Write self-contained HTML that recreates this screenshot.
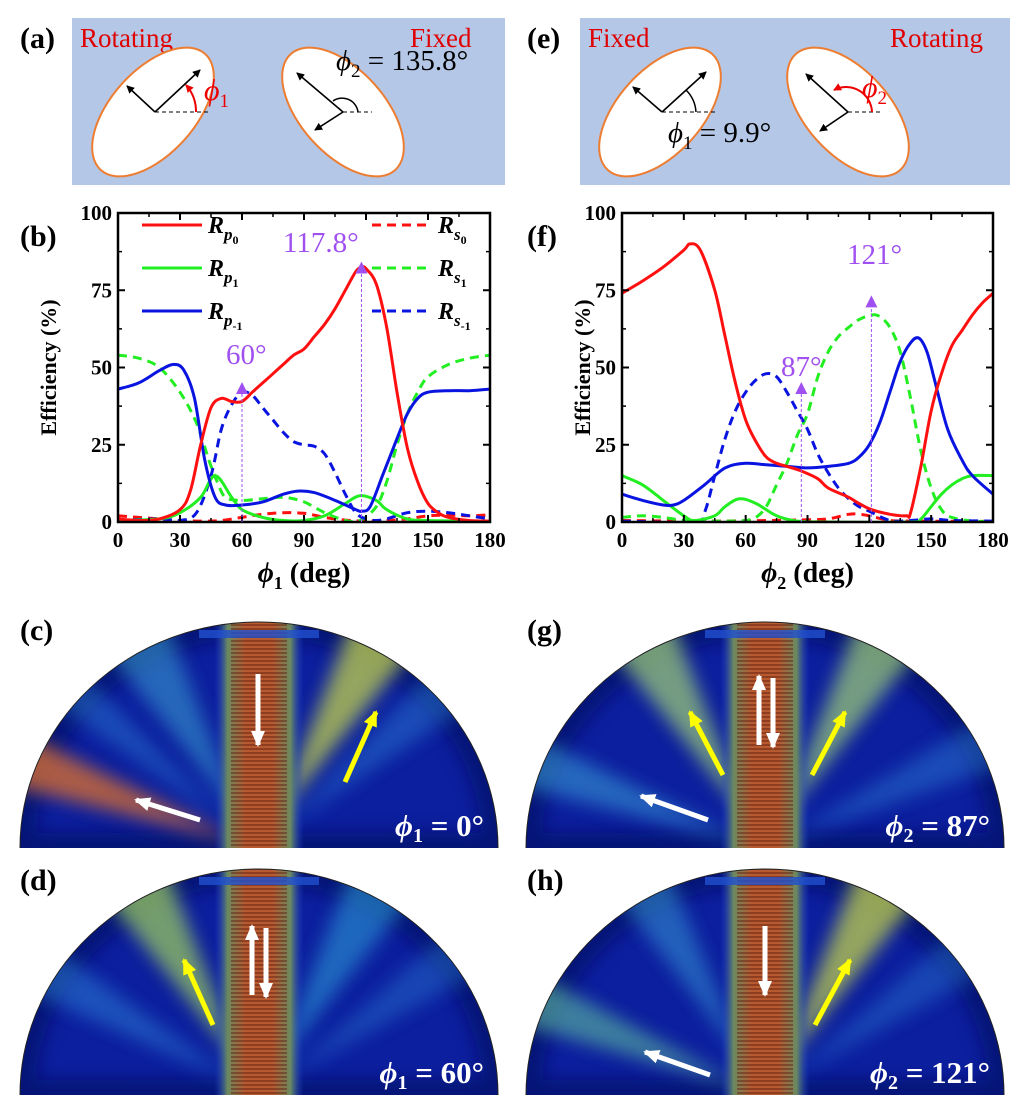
<!DOCTYPE html>
<html><head><meta charset="utf-8">
<style>
html,body{margin:0;padding:0;background:#fff;}
svg{display:block;font-family:"Liberation Serif",serif;}
</style></head>
<body>
<svg id="fig" width="1026" height="1106" viewBox="0 0 1026 1106" xmlns="http://www.w3.org/2000/svg">
<defs>
  <filter id="blur" x="-30%" y="-30%" width="160%" height="160%"><feGaussianBlur stdDeviation="9"/></filter>
  <linearGradient id="core" x1="0" x2="1" y1="0" y2="0">
    <stop offset="0" stop-color="#1a3fd0" stop-opacity="0"/>
    <stop offset="0.15" stop-color="#6a8a60"/>
    <stop offset="0.35" stop-color="#b85a30"/>
    <stop offset="0.65" stop-color="#b85a30"/>
    <stop offset="0.85" stop-color="#6a8a60"/>
    <stop offset="1" stop-color="#1a3fd0" stop-opacity="0"/>
  </linearGradient>
  <pattern id="stripes" width="6" height="4" patternUnits="userSpaceOnUse">
    <rect width="6" height="2" fill="#5a1a10" opacity="0.45"/>
  </pattern>
  <marker id="ahB" markerWidth="8" markerHeight="8" refX="7" refY="4" orient="auto" markerUnits="userSpaceOnUse"><path d="M0,0 L8,4 L0,8 Z" fill="#000"/></marker>
  <marker id="ahR" markerWidth="8" markerHeight="8" refX="7" refY="4" orient="auto" markerUnits="userSpaceOnUse"><path d="M0,0 L8,4 L0,8 Z" fill="#e00"/></marker>
  <marker id="ahW" markerWidth="16" markerHeight="14" refX="14" refY="7" orient="auto" markerUnits="userSpaceOnUse"><path d="M0,0 L16,7 L0,14 Z" fill="#fff"/></marker>
  <marker id="ahY" markerWidth="16" markerHeight="14" refX="14" refY="7" orient="auto" markerUnits="userSpaceOnUse"><path d="M0,0 L16,7 L0,14 Z" fill="#ffff00"/></marker>
</defs>

<g font-weight="bold" font-size="30" fill="#000">
  <text x="20" y="48">(a)</text>
  <text x="20" y="246">(b)</text>
  <text x="20" y="640">(c)</text>
  <text x="20" y="890">(d)</text>
  <text x="527" y="48">(e)</text>
  <text x="527" y="246">(f)</text>
  <text x="527" y="640">(g)</text>
  <text x="527" y="890">(h)</text>
</g>

<g>
  <rect x="72" y="18" width="433" height="167" fill="#b4c7e7"/>
  <text x="80" y="47" font-size="27" fill="#e00000">Rotating</text>
  <text x="410" y="47" font-size="27" fill="#e00000">Fixed</text>
  <ellipse cx="153" cy="112" rx="78" ry="42" transform="rotate(-48 153 112)" fill="#fff" stroke="#ed7d31" stroke-width="2"/>
  <line x1="155" y1="112" x2="210" y2="112" stroke="#000" stroke-dasharray="4,3"/>
  <line x1="155" y1="112" x2="200" y2="70" stroke="#000" stroke-width="1.6" marker-end="url(#ahB)"/>
  <line x1="155" y1="112" x2="127" y2="86" stroke="#000" stroke-width="1.6" marker-end="url(#ahB)"/>
  <path d="M196,112 A40,40 0 0 0 186,85" fill="none" stroke="#e00" stroke-width="2" marker-end="url(#ahR)"/>
  <text x="204" y="100" font-size="30" font-style="italic" fill="#e00">ϕ<tspan font-size="19" dy="7" font-style="normal">1</tspan></text>
  <ellipse cx="343" cy="112" rx="78" ry="42" transform="rotate(48 343 112)" fill="#fff" stroke="#ed7d31" stroke-width="2"/>
  <line x1="343" y1="112" x2="372" y2="112" stroke="#000" stroke-dasharray="4,3"/>
  <line x1="343" y1="112" x2="297" y2="73" stroke="#000" stroke-width="1.6" marker-end="url(#ahB)"/>
  <line x1="343" y1="112" x2="315" y2="130" stroke="#000" stroke-width="1.6" marker-end="url(#ahB)"/>
  <path d="M358,112 A16,16 0 0 0 333,101" fill="none" stroke="#000" stroke-width="1.5"/>
  <text x="336" y="70" font-size="29" fill="#000"><tspan font-style="italic">ϕ</tspan><tspan font-size="19" dy="7">2</tspan><tspan dy="-7"> = 135.8°</tspan></text>
</g>

<g>
  <rect x="580" y="18" width="430" height="167" fill="#b4c7e7"/>
  <text x="588" y="47" font-size="27" fill="#e00000">Fixed</text>
  <text x="890" y="47" font-size="27" fill="#e00000">Rotating</text>
  <ellipse cx="660" cy="112" rx="78" ry="42" transform="rotate(-48 660 112)" fill="#fff" stroke="#ed7d31" stroke-width="2"/>
  <line x1="662" y1="112" x2="715" y2="112" stroke="#000" stroke-dasharray="4,3"/>
  <line x1="662" y1="112" x2="706" y2="72" stroke="#000" stroke-width="1.6" marker-end="url(#ahB)"/>
  <line x1="662" y1="112" x2="633" y2="87" stroke="#000" stroke-width="1.6" marker-end="url(#ahB)"/>
  <path d="M696,112 A34,34 0 0 0 686,90" fill="none" stroke="#000" stroke-width="1.5"/>
  <text x="668" y="142" font-size="29" fill="#000"><tspan font-style="italic">ϕ</tspan><tspan font-size="19" dy="7">1</tspan><tspan dy="-7"> = 9.9°</tspan></text>
  <ellipse cx="848" cy="112" rx="78" ry="42" transform="rotate(48 848 112)" fill="#fff" stroke="#ed7d31" stroke-width="2"/>
  <line x1="848" y1="112" x2="880" y2="112" stroke="#000" stroke-dasharray="4,3"/>
  <line x1="848" y1="112" x2="806" y2="74" stroke="#000" stroke-width="1.6" marker-end="url(#ahB)"/>
  <line x1="848" y1="112" x2="820" y2="131" stroke="#000" stroke-width="1.6" marker-end="url(#ahB)"/>
  <path d="M872,112 A26,26 0 0 0 834,90" fill="none" stroke="#e00" stroke-width="2" marker-end="url(#ahR)"/>
  <text x="862" y="97" font-size="30" font-style="italic" fill="#e00">ϕ<tspan font-size="19" dy="7" font-style="normal">2</tspan></text>
</g>

<g id="chartB"></g>
<g id="chartF"></g>
<g id="heat"></g>
</svg>

<script>
// ---------- Chart data (panel b) ----------
const bRp0X = [0,10,20,30,35,40,45,50,55,60,65,70,75,80,85,90,95,100,105,110,115,118,120,125,130,135,140,145,150,155,160,170,180];
const bRp0Y = [1,0.5,1,4,10,25,37,40,39,39,42,45,48,51,54,56,60,64,69,75,81,82.5,82,77,63,42,24,13,6,3,1.5,0.5,0.3];
const bRp1X = [0,20,30,40,47,55,60,70,80,90,100,110,117,125,130,140,150,180];
const bRp1Y = [0.5,1,3,8,15,8,4,1.5,0.5,0.5,2,6,8.5,7,4,1,0.5,0.2];
const bRpm1X = [0,10,20,27,32,37,42,47,52,60,70,80,87,95,105,115,118,122,128,135,140,145,150,160,170,180];
const bRpm1Y = [43,45,49,51,49,40,20,8,5.5,5.5,6.5,9,10,9.5,7,4,3.5,5,15,27,35,40,42,42.5,42.5,43];
const bRs0X = [0,10,20,30,40,50,60,70,80,90,100,110,120,130,140,150,160,170,180];
const bRs0Y = [2,1.5,1,0.5,0.3,0.5,1.5,2.5,3,2.8,1.5,0.6,0.3,0.5,1,2,2.2,2,2.3];
const bRs1X = [0,10,20,30,38,44,48,52,60,70,80,90,100,110,117,125,130,135,140,145,150,160,170,180];
const bRs1Y = [54,53,50,42,32,20,13,8,7,7.5,8,6.5,3,0.5,0.5,5,13,25,35,42,47,51,53,54];
const bRsm1X = [0,20,30,38,45,50,55,60,65,70,75,80,85,90,95,100,105,110,115,120,125,130,140,150,160,170,180];
const bRsm1Y = [0.5,1,0.5,3,15,30,38,42,41,37,33,29,26,25,24.5,22,16,9,3,1,0.5,1,3,3.5,3,2,1];

// ---------- Chart data (panel f) ----------
const fRp0X = [0,10,20,30,33,38,45,50,55,60,65,70,75,80,87,95,100,110,115,121,130,138,140,145,150,155,160,165,170,175,180];
const fRp0Y = [74,78,82.5,88,90,88,75,60,45,33,26,21,19,18,16.5,14,11,8,6,4,2.5,2,3,18,36,48,57,62,67,71,74];
const fRp1X = [0,10,20,30,35,45,50,57,65,75,85,100,140,145,150,155,160,165,170,180];
const fRp1Y = [15,12,7,2,0.5,2,5,7.5,6,2,0.3,0,0,1,5,9,12,14,15,15];
const fRpm1X = [0,10,20,25,30,40,50,60,70,80,90,100,110,115,120,125,130,135,140,144,148,152,158,165,170,180];
const fRpm1Y = [9,7,5.5,5.5,7,12,17.5,19,18.5,18,17.5,18,19,21,25,32,42,52,58,59.5,55,45,30,20,15,9];
const fRs0X = [0,30,60,90,100,110,115,120,130,140,180];
const fRs0Y = [0.5,0.3,0.4,0.7,1,2.5,2.5,2,0.5,0.3,0.2];
const fRs1X = [0,10,20,30,40,50,60,65,70,75,80,85,90,95,100,105,110,115,121,125,130,135,140,145,150,155,160,170,180];
const fRs1Y = [1.5,2,1.5,0.5,0.3,0.3,0.5,1.5,5,12,19,28,35,47,55,60,63,65.5,67,66.5,63,55,40,23,11,4,1.5,0.3,0.2];
const fRsm1X = [0,35,40,45,50,55,60,65,70,75,80,85,90,95,100,105,110,115,120,130,140,150,160,180];
const fRsm1Y = [0.3,0,3,15,27,36,42,46,48,47,42,36,30,22,16,11,7.5,5,3.5,0.5,0.5,1,0.5,0.3];

const yTickVals = [0,25,50,75,100];
const xTickVals = [0,30,60,90,120,150,180];

const NS = "http://www.w3.org/2000/svg";
function mk(tag, attrs, parent){ const e=document.createElementNS(NS,tag); for(const k in attrs) e.setAttribute(k,attrs[k]); if(parent) parent.appendChild(e); return e; }

function smoothPath(pts){
  let d = "M"+pts[0][0].toFixed(1)+","+pts[0][1].toFixed(1);
  for(let i=0;i<pts.length-1;i++){
    const p0=pts[Math.max(0,i-1)], p1=pts[i], p2=pts[i+1], p3=pts[Math.min(pts.length-1,i+2)];
    const c1x=p1[0]+(p2[0]-p0[0])/6, c1y=p1[1]+(p2[1]-p0[1])/6;
    const c2x=p2[0]-(p3[0]-p1[0])/6, c2y=p2[1]-(p3[1]-p1[1])/6;
    d+=" C"+c1x.toFixed(1)+","+c1y.toFixed(1)+" "+c2x.toFixed(1)+","+c2y.toFixed(1)+" "+p2[0].toFixed(1)+","+p2[1].toFixed(1);
  }
  return d;
}

function drawChart(g, x0, x1, series, xSub, ylabX){
  const y0=522, y1=213;
  const sx = v => x0 + (v/180)*(x1-x0);
  const sy = v => y0 - (v/100)*(y0-y1);
  const clipId = g.id+"clip";
  const cp = mk("clipPath",{id:clipId},g); mk("rect",{x:x0,y:y1,width:x1-x0,height:y0-y1},cp);
  const sg = mk("g",{"clip-path":"url(#"+clipId+")"},g);
  series.forEach(s=>{
    const pts = s.x.map((v,i)=>[sx(v), sy(s.y[i])]);
    const p = mk("path",{d:smoothPath(pts),fill:"none",stroke:s.color,"stroke-width":3,"stroke-dasharray":s.dash?"9,6":"none"},sg);
    
    
  });
  const fr = mk("rect",{x:x0,y:y1,width:x1-x0,height:y0-y1,fill:"none",stroke:"#000","stroke-width":2.5},g);
  
  
  yTickVals.forEach(v=>{
    mk("line",{x1:x0,x2:x0+7,y1:sy(v),y2:sy(v),stroke:"#000","stroke-width":2},g);
    mk("line",{x1:x1,x2:x1-7,y1:sy(v),y2:sy(v),stroke:"#000","stroke-width":2},g);
    if(v<100){ const m=sy(v+12.5); mk("line",{x1:x0,x2:x0+4,y1:m,y2:m,stroke:"#000","stroke-width":1.5},g); mk("line",{x1:x1,x2:x1-4,y1:m,y2:m,stroke:"#000","stroke-width":1.5},g); }
    const t = mk("text",{x:x0-6,y:sy(v)+7,"text-anchor":"end","font-size":21,"font-weight":"bold"},g);
    t.textContent = v;
    
    
  });
  xTickVals.forEach(v=>{
    mk("line",{x1:sx(v),x2:sx(v),y1:y0,y2:y0-7,stroke:"#000","stroke-width":2},g);
    mk("line",{x1:sx(v),x2:sx(v),y1:y1,y2:y1+7,stroke:"#000","stroke-width":2},g);
    if(v<180){ const m=sx(v+15); mk("line",{x1:m,x2:m,y1:y0,y2:y0-4,stroke:"#000","stroke-width":1.5},g); mk("line",{x1:m,x2:m,y1:y1,y2:y1+4,stroke:"#000","stroke-width":1.5},g); }
    const t = mk("text",{x:sx(v),y:y0+25,"text-anchor":"middle","font-size":21,"font-weight":"bold"},g);
    t.textContent = v;
    
    
  });
  const yl = mk("text",{x:ylabX,y:(y0+y1)/2,"text-anchor":"middle","font-size":22,"font-weight":"bold",transform:"rotate(-90 "+ylabX+" "+((y0+y1)/2)+")"},g);
  yl.textContent = "Efficiency (%)";
  
  
  const xl = mk("text",{x:(x0+x1)/2,y:582,"text-anchor":"middle","font-size":28,"font-weight":"bold"},g);
  xl.innerHTML = '<tspan font-style="italic">ϕ</tspan><tspan font-size="18" dy="7">'+xSub+'</tspan><tspan dy="-7"> (deg)</tspan>';
  
  
  return {sx, sy};
}

function annot(g, sc, deg, val, label, tx, ty){
  const x = sc.sx(deg), y = sc.sy(val);
  const l = mk("line",{x1:x,x2:x,y1:522,y2:y+10,stroke:"#a050f0","stroke-width":1,"stroke-dasharray":"3,2"},g);
  
  
  const tri = mk("polygon",{points:`${x-6},${y+11} ${x+6},${y+11} ${x},${y-1}`,fill:"#a050f0"},g);
  
  
  const t = mk("text",{x:tx,y:ty,"font-size":29,fill:"#a050f0"},g);
  t.textContent = label;
  
  
}

const gB = document.getElementById("chartB");
const scB = drawChart(gB, 118, 490, [
  {name:"rs0-line",x:bRs0X,y:bRs0Y,color:"#ff1010",dash:true},
  {name:"rs1-line",x:bRs1X,y:bRs1Y,color:"#22ee22",dash:true},
  {name:"rs-1-line",x:bRsm1X,y:bRsm1Y,color:"#0a14e0",dash:true},
  {name:"rp1-line",x:bRp1X,y:bRp1Y,color:"#22ee22",dash:false},
  {name:"rp-1-line",x:bRpm1X,y:bRpm1Y,color:"#0a14e0",dash:false},
  {name:"rp0-line",x:bRp0X,y:bRp0Y,color:"#ff1010",dash:false}
], "1", 56);
annot(gB, scB, 117.8, 84, "117.8°", 283, 252);
annot(gB, scB, 60, 45, "60°", 226, 364);

const legItems = [
  [142,225,"#ff1010",false,"p","0"],[142,268,"#22ee22",false,"p","1"],[142,311,"#0a14e0",false,"p","-1"],
  [372,225,"#ff1010",true,"s","0"],[372,268,"#22ee22",true,"s","1"],[372,311,"#0a14e0",true,"s","-1"]
];
legItems.forEach(it=>{
  const lg = mk("g",{},gB);
  
  
  mk("line",{x1:it[0],x2:it[0]+60,y1:it[1],y2:it[1],stroke:it[2],"stroke-width":3,"stroke-dasharray":it[3]?"9,6":"none"},lg);
  const t = mk("text",{x:it[0]+66,y:it[1]+8,"font-size":24,"font-weight":"bold","font-style":"italic"},lg);
  t.innerHTML = 'R<tspan font-size="17" dy="7">'+it[4]+'</tspan><tspan font-size="12" dy="4" font-style="normal">'+it[5]+'</tspan>';
});

const gF = document.getElementById("chartF");
const scF = drawChart(gF, 622, 993, [
  {name:"rs0-line",x:fRs0X,y:fRs0Y,color:"#ff1010",dash:true},
  {name:"rs1-line",x:fRs1X,y:fRs1Y,color:"#22ee22",dash:true},
  {name:"rs-1-line",x:fRsm1X,y:fRsm1Y,color:"#0a14e0",dash:true},
  {name:"rp1-line",x:fRp1X,y:fRp1Y,color:"#22ee22",dash:false},
  {name:"rp-1-line",x:fRpm1X,y:fRpm1Y,color:"#0a14e0",dash:false},
  {name:"rp0-line",x:fRp0X,y:fRp0Y,color:"#ff1010",dash:false}
], "2", 590);
annot(gF, scF, 87, 45, "87°", 781, 376);
annot(gF, scF, 121, 73, "121°", 847, 264);

const heat = document.getElementById("heat");
function fieldMap(id, cx, cy, beams, arrows, label){
  const g = mk("g",{},heat);
  
  
  const rx=239, ry=226;
  const cp = mk("clipPath",{id:"cp"+id},g);
  mk("path",{d:`M${cx-rx},${cy} A${rx},${ry} 0 0 1 ${cx+rx},${cy} Z`},cp);
  const inner = mk("g",{"clip-path":"url(#cp"+id+")"},g);
  mk("rect",{x:cx-rx,y:cy-ry,width:2*rx,height:ry,fill:"#0c1f9e"},inner);
  mk("path",{d:`M${cx-rx},${cy} A${rx},${ry} 0 0 1 ${cx+rx},${cy} Z`,fill:"none",stroke:"#03105a","stroke-width":30,opacity:0.6,filter:"url(#blur)"},inner);
  beams.forEach(b=>{
    const L=330, a1=(b.a-b.w)*Math.PI/180, a2=(b.a+b.w)*Math.PI/180;
    const pts = `${cx-6},${cy} ${cx+L*Math.cos(a1)},${cy-L*Math.sin(a1)} ${cx+L*Math.cos(a2)},${cy-L*Math.sin(a2)} ${cx+6},${cy}`;
    mk("polygon",{points:pts,fill:b.c,opacity:b.o,filter:"url(#blur)"},inner);
  });
  mk("rect",{x:cx-45,y:cy-ry,width:90,height:ry,fill:"url(#core)"},inner);
  mk("rect",{x:cx-28,y:cy-ry,width:56,height:ry,fill:"url(#stripes)"},inner);
  mk("rect",{x:cx-60,y:cy-ry+8,width:120,height:8,fill:"#2050d0",opacity:0.8},inner);
  mk("path",{d:`M${cx-rx},${cy} A${rx},${ry} 0 0 1 ${cx+rx},${cy}`,fill:"none",stroke:"#222","stroke-width":1},g);
  arrows.forEach(a=>{
    const l = mk("line",{x1:a[0],y1:a[1],x2:a[2],y2:a[3],stroke:a[4]==="w"?"#fff":"#ffff00","stroke-width":5,"marker-end":a[4]==="w"?"url(#ahW)":"url(#ahY)"},g);
    
    
  });
  const t = mk("text",{x:cx+225,y:cy-12,"text-anchor":"end","font-size":31,"font-weight":"bold",fill:"#fff"},g);
  t.innerHTML = label;
  
  
}
fieldMap("c",259,848,[
  {a:60,w:8,c:"#b8c850",o:0.8},{a:160,w:6,c:"#c86838",o:0.85},{a:120,w:8,c:"#40b0d8",o:0.5},{a:40,w:6,c:"#3090e0",o:0.4},{a:140,w:5,c:"#3090e0",o:0.4}
],[[258,674,258,745,"w"],[345,782,376,712,"y"],[200,820,136,800,"w"]],
'<tspan font-style="italic">ϕ</tspan><tspan font-size="20" dy="6">1</tspan><tspan dy="-6"> = 0°</tspan>');
fieldMap("d",259,1095,[
  {a:120,w:8,c:"#98c860",o:0.75},{a:60,w:8,c:"#30b0e0",o:0.5},{a:150,w:6,c:"#3090e0",o:0.45},{a:35,w:6,c:"#3090e0",o:0.35}
],[[252,995,252,926,"w"],[266,928,266,997,"w"],[213,1025,184,960,"y"]],
'<tspan font-style="italic">ϕ</tspan><tspan font-size="20" dy="6">1</tspan><tspan dy="-6"> = 60°</tspan>');
fieldMap("g",765,848,[
  {a:120,w:8,c:"#98c878",o:0.75},{a:60,w:8,c:"#98c878",o:0.75},{a:160,w:6,c:"#40b0e0",o:0.5},{a:25,w:6,c:"#3090e0",o:0.4}
],[[759,745,759,676,"w"],[773,678,773,747,"w"],[723,775,690,712,"y"],[812,775,845,712,"y"],[708,820,641,796,"w"]],
'<tspan font-style="italic">ϕ</tspan><tspan font-size="20" dy="6">2</tspan><tspan dy="-6"> = 87°</tspan>');
fieldMap("h",765,1095,[
  {a:60,w:8,c:"#b8c850",o:0.8},{a:158,w:6,c:"#60c0a0",o:0.6},{a:120,w:7,c:"#40b0e0",o:0.45},{a:35,w:6,c:"#3090e0",o:0.35}
],[[765,926,765,995,"w"],[815,1025,850,960,"y"],[710,1075,645,1052,"w"]],
'<tspan font-style="italic">ϕ</tspan><tspan font-size="20" dy="6">2</tspan><tspan dy="-6"> = 121°</tspan>');
</script>
</body></html>
